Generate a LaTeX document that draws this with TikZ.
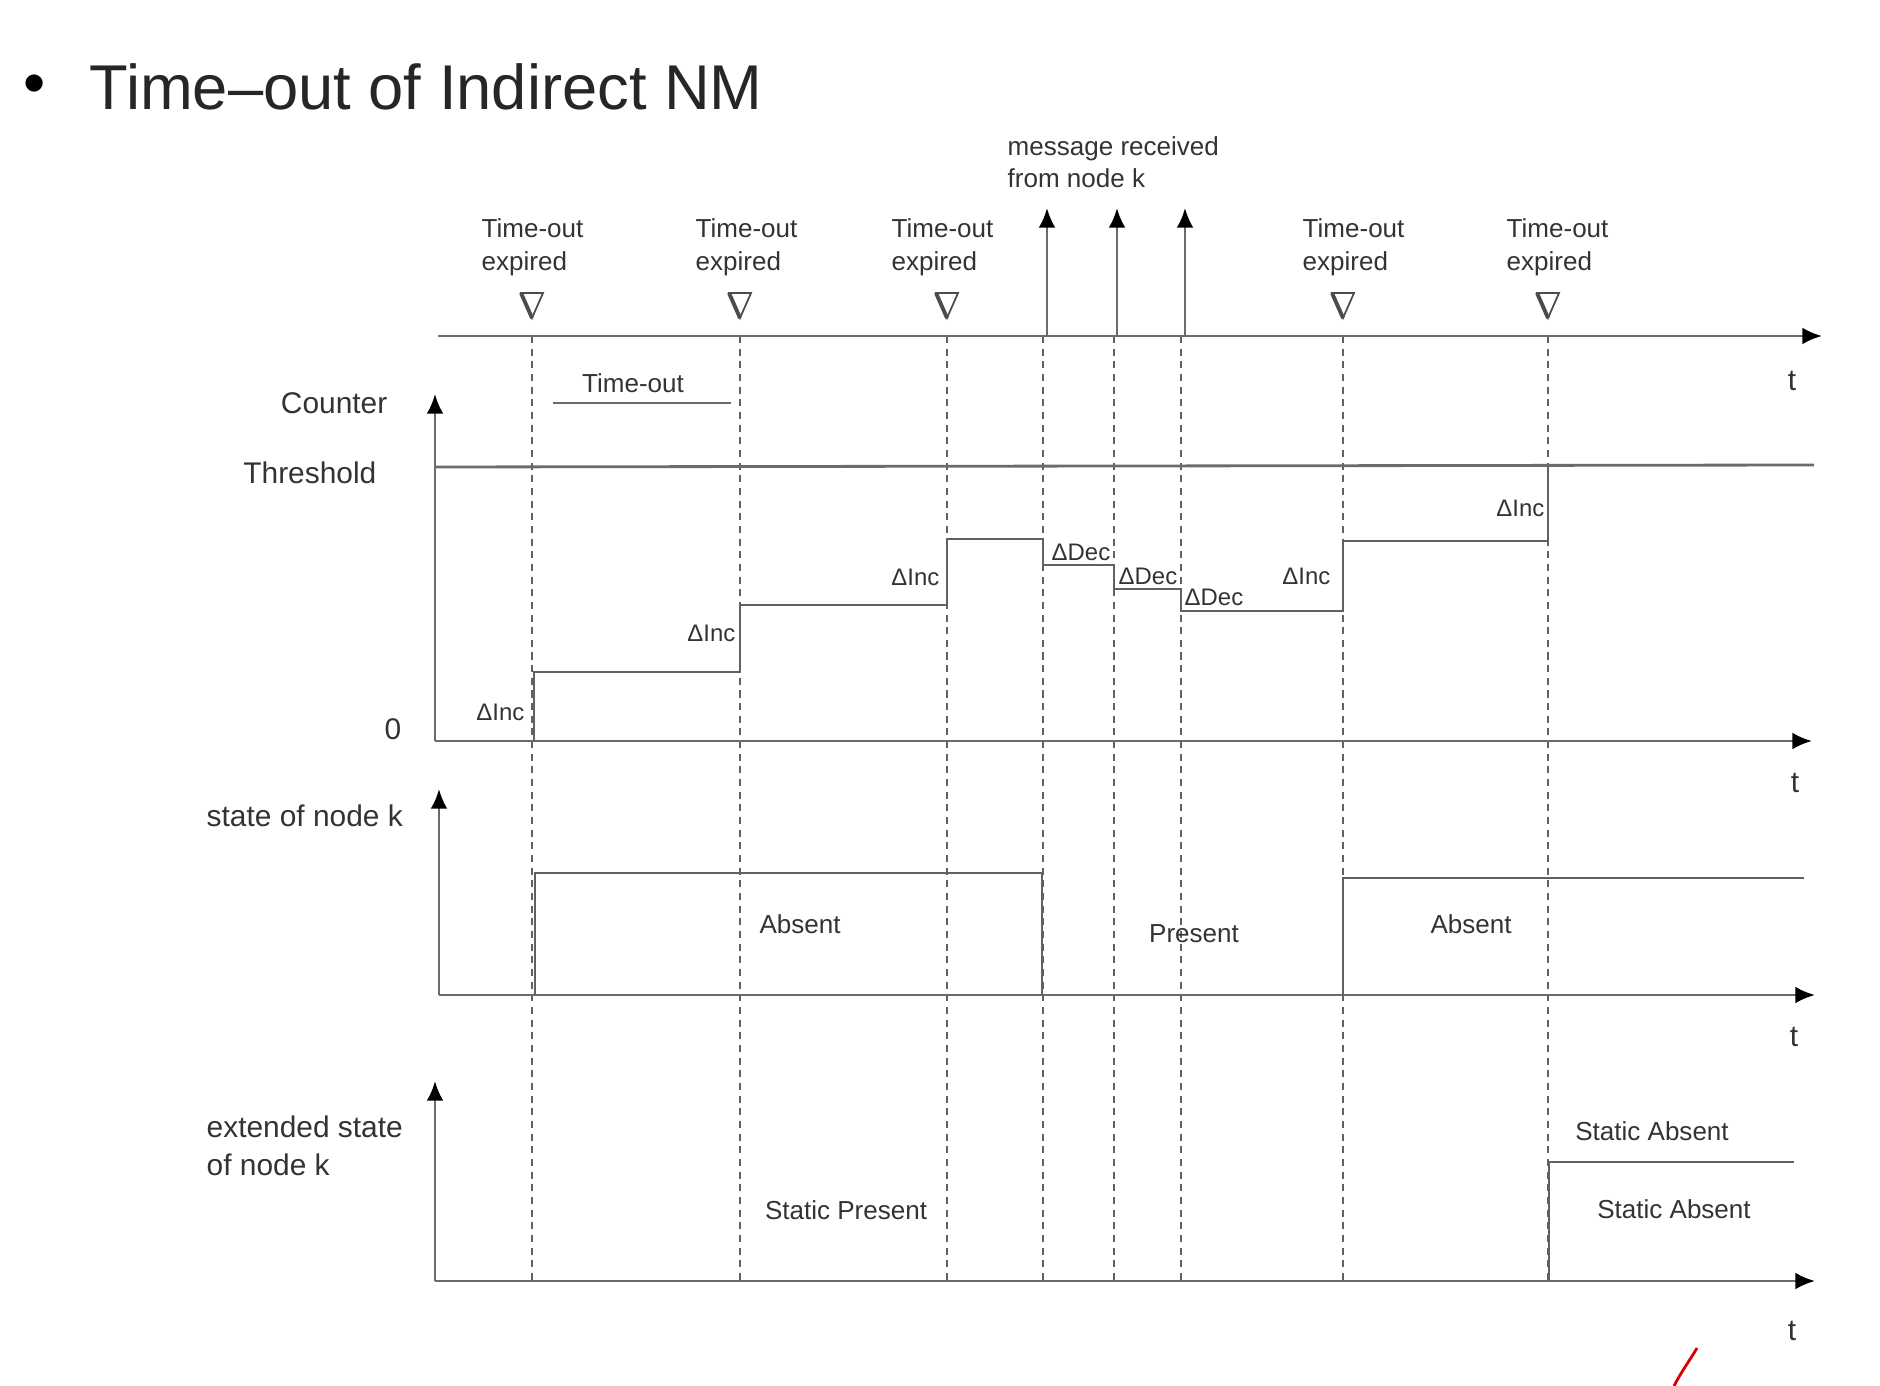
\documentclass[tikz,border=0pt]{standalone}
\usepackage{fontspec}
\setmainfont{Liberation Sans}
\usetikzlibrary{arrows.meta}
\begin{document}
\begin{tikzpicture}[x=0.01cm,y=-0.01cm,
  ln/.style={draw=black!58, line width=0.8pt},
  stepln/.style={draw=black!62, line width=0.6pt},
  ax/.style={ln, -{Latex[length=5.6pt,width=4.8pt,color=black]}},
  dsh/.style={draw=black!62, line width=0.55pt, dash pattern=on 2pt off 1.6pt},
  big/.style={font=\fontsize{8.5}{10}\selectfont, text=black!80, inner sep=0pt},
  sm/.style={font=\fontsize{7.4}{9.4}\selectfont, text=black!80, inner sep=0pt, align=left},
  dl/.style={font=\fontsize{6.8}{8}\selectfont, text=black!80, inner sep=0pt},
  nab/.pic={\draw[black!70,line width=0.5pt] (-11,-12) -- (11,-12) -- (0,13) -- cycle;
            \draw[black!70,line width=1.1pt] (-11,-12) -- (0,13);}
]
\useasboundingbox (0,0) rectangle (1880,1386);

% title
\node[font=\fontsize{18}{22}\selectfont, inner sep=0pt] (bul) at (35,90) {•};
\node[font=\fontsize{18}{22}\selectfont, inner sep=0pt, anchor=base west, text=black!85] (title) at (89,110) {Time–out of Indirect NM};

% dashed verticals
\foreach \n/\x in {a/532,b/740,c/947,d/1043,e/1114,f/1181,g/1343,h/1548}{
  \coordinate (dt\n) at (\x,336);
  \coordinate (db\n) at (\x,1281);
  \draw[dsh] (dt\n) -- (db\n);
}

% top axis
\coordinate (topA) at (438,336);
\coordinate (topB) at (1822,336);
\draw[ax] (topA) -- (topB);
\node[big] (t1) at (1792,381) {t};

% time-out markers
\foreach \n/\x/\lx in {1/532/481,2/740/695,3/947/891,4/1343/1302,5/1548/1506}{
  \pic at (\x,305) {nab};
  \node[sm, anchor=north west] (to\n) at (\lx,218) {Time-out\\expired};
}

% messages
\foreach \n/\x in {1/1047,2/1117,3/1185}{
  \coordinate (mb\n) at (\x,336);
  \coordinate (mt\n) at (\x,208);
  \draw[ax] (mb\n) -- (mt\n);
}
\node[sm, anchor=north west, font=\fontsize{7.4}{9.1}\selectfont] (msg) at (1007,136) {message received\\from node k};

% time-out bar
\coordinate (tob1) at (553,403);
\coordinate (tob2) at (731,403);
\draw[ln] (tob1) -- (tob2);
\node[sm] (tolbl) at (633,383) {Time-out};

% counter axes
\coordinate (c0) at (435,741);
\coordinate (cy) at (435,394);
\coordinate (cx) at (1812,741);
\draw[ax] (c0) -- (cy);
\draw[ax] (c0) -- (cx);
\coordinate (th1) at (435,467);
\coordinate (th2) at (1814,465);
\draw[ln] (th1) -- (th2);
\node[big, anchor=east] (counter) at (388,403) {Counter};
\node[big, anchor=east] (thresh) at (377,473) {Threshold};
\node[big] (zero) at (393,729) {0};
\node[big] (t2) at (1795,783) {t};

% counter steps
\draw[stepln] (534,741) -- (534,672) -- (740,672) -- (740,605) -- (947,605) -- (947,539)
  -- (1043,539) -- (1043,565) -- (1114,565) -- (1114,589) -- (1181,589) -- (1181,611)
  -- (1343,611) -- (1343,541) -- (1548,541) -- (1548,467);
\node[dl, anchor=east] (di1) at (525,712) {ΔInc};
\node[dl, anchor=east] (di2) at (736,633) {ΔInc};
\node[dl, anchor=east] (di3) at (940,577) {ΔInc};
\node[dl, anchor=west] (dd1) at (1051,552) {ΔDec};
\node[dl, anchor=west] (dd2) at (1118,576) {ΔDec};
\node[dl, anchor=west] (dd3) at (1184,597) {ΔDec};
\node[dl, anchor=east] (di4) at (1331,576) {ΔInc};
\node[dl, anchor=east] (di5) at (1545,508) {ΔInc};

% state of node k
\coordinate (s0) at (439,995);
\coordinate (sy) at (439,789);
\coordinate (sx) at (1815,995);
\draw[ax] (s0) -- (sy);
\draw[ax] (s0) -- (sx);
\draw[stepln] (535,995) -- (535,873) -- (1042,873) -- (1042,995);
\draw[stepln] (1343,995) -- (1343,878) -- (1804,878);
\node[big, anchor=west] (state) at (206,816) {state of node k};
\node[sm] (abs1) at (800,924) {Absent};
\node[sm] (pres) at (1194,934) {Present};
\node[sm] (abs2) at (1471,924) {Absent};
\node[big] (t3) at (1794,1037) {t};

% extended state
\coordinate (e0) at (435,1281);
\coordinate (ey) at (435,1081);
\coordinate (ex) at (1815,1281);
\draw[ax] (e0) -- (ey);
\draw[ax] (e0) -- (ex);
\draw[stepln] (1549,1281) -- (1549,1162) -- (1794,1162);
\node[big, anchor=north west, align=left, font=\fontsize{8.5}{10.7}\selectfont] (ext) at (206,1115) {extended state\\of node k};
\node[sm] (sp) at (846,1210) {Static Present};
\node[sm] (sa1) at (1652,1131) {Static Absent};
\node[sm] (sa2) at (1674,1209) {Static Absent};
\node[big] (t4) at (1792,1331) {t};

% red pen mark
\coordinate (r1) at (1697,1348);
\coordinate (r2) at (1674,1386);
\draw[red!85!black, line width=0.8pt] (r1) .. controls (1690,1360) and (1681,1372) .. (r2);
\end{tikzpicture}
\end{document}
